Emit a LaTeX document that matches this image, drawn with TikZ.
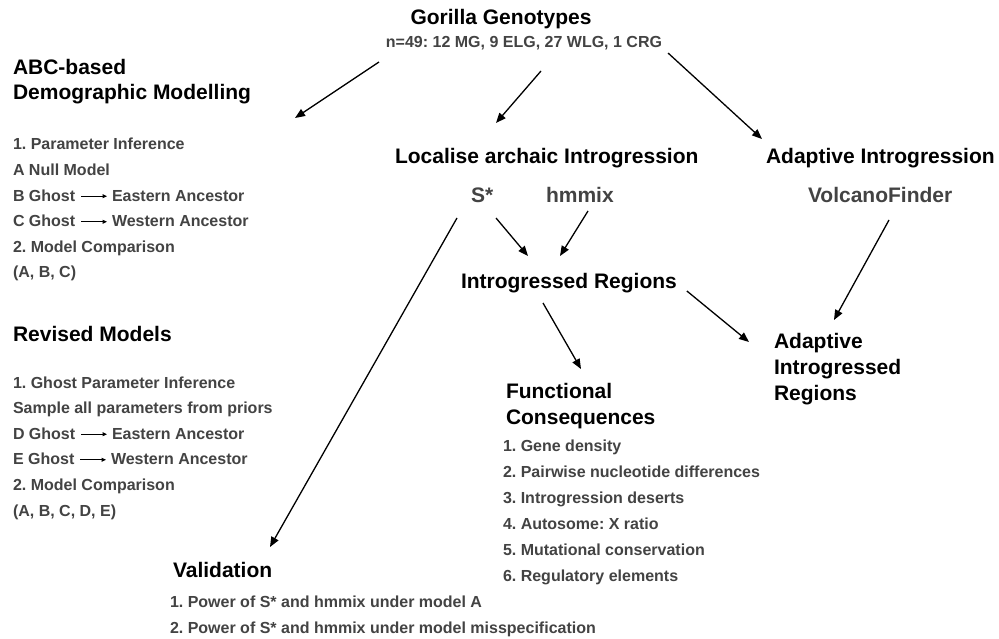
\documentclass[tikz,border=0pt]{standalone}
\usepackage{fontspec}
\setmainfont{Liberation Sans}
\usetikzlibrary{arrows.meta,calc}
\definecolor{txtgray}{HTML}{434343}
\begin{document}
\frenchspacing
\begin{tikzpicture}[x=1pt,y=-1pt,
  every node/.style={inner sep=0pt, outer sep=0pt},
  head/.style={font=\fontsize{21}{25}\selectfont\bfseries, text=black, anchor=base west},
  tool/.style={font=\fontsize{21}{25}\selectfont\bfseries, text=txtgray, anchor=base west},
  item/.style={font=\fontsize{16}{19}\selectfont\bfseries, text=txtgray, anchor=base west},
  arr/.style={draw=black, line width=1.3pt, -{Triangle[length=10pt,width=8pt]}},
  minarr/.style={draw=black, line width=1pt, -{Triangle[length=4.5pt,width=4pt]}}
]
\fill[white] (0,0) rectangle (999,639);
\useasboundingbox (0,0) rectangle (999,639);

% top
\node[head, anchor=base] (gor) at (501,25) {Gorilla Genotypes};
\node[item, anchor=base] (sub) at (524,48) {n=49: 12 MG, 9 ELG, 27 WLG, 1 CRG};

% ABC block
\node[head] (abc1) at (13,75) {ABC-based};
\node[head] (abc2) at (13,100) {Demographic Modelling};
\node[item] (p1) at (13,150) {1. Parameter Inference};
\node[item] (p2) at (13,175.6) {A Null Model};
\node[item] (p3a) at (13,201.2) {B Ghost};
\node[item] (p3b) at (112,201.2) {Eastern Ancestor};
\node[item] (p4a) at (13,226.8) {C Ghost};
\node[item] (p4b) at (112,226.8) {Western Ancestor};
\node[item] (p5) at (13,252.4) {2. Model Comparison};
\node[item] (p6) at (13,278) {(A, B, C)};
\draw[minarr] ($(p3a.base east)+(6,-5)$) -- ($(p3b.base west)+(-5,-5)$);
\draw[minarr] ($(p4a.base east)+(6,-5)$) -- ($(p4b.base west)+(-5,-5)$);

% Revised block
\node[head] (rev) at (13,341) {Revised Models};
\node[item] (r1) at (13,388) {1. Ghost Parameter Inference};
\node[item] (r2) at (13,413.6) {Sample all parameters from priors};
\node[item] (r3a) at (13,439.2) {D Ghost};
\node[item] (r3b) at (112,439.2) {Eastern Ancestor};
\node[item] (r4a) at (13,464.8) {E Ghost};
\node[item] (r4b) at (111,464.8) {Western Ancestor};
\node[item] (r5) at (13,490.4) {2. Model Comparison};
\node[item] (r6) at (13,516) {(A, B, C, D, E)};
\draw[minarr] ($(r3a.base east)+(6,-5)$) -- ($(r3b.base west)+(-5,-5)$);
\draw[minarr] ($(r4a.base east)+(6,-5)$) -- ($(r4b.base west)+(-5,-5)$);

% Validation
\node[head] (val) at (173,577) {Validation};
\node[item] (v1) at (170,607) {1. Power of S* and hmmix under model A};
\node[item] (v2) at (170,633) {2. Power of S* and hmmix under model misspecification};

% middle
\node[head] (loc) at (395,164) {Localise archaic Introgression};
\node[tool] (sstar) at (471,203) {S*};
\node[tool] (hmm) at (546,203) {hmmix};
\node[head] (intr) at (461,288) {Introgressed Regions};
\node[head] (fun1) at (506,398) {Functional};
\node[head] (fun2) at (506,424) {Consequences};
\node[item] (f1) at (503,451) {1. Gene density};
\node[item] (f2) at (503,477) {2. Pairwise nucleotide differences};
\node[item] (f3) at (503,503) {3. Introgression deserts};
\node[item] (f4) at (503,529) {4. Autosome: X ratio};
\node[item] (f5) at (503,555) {5. Mutational conservation};
\node[item] (f6) at (503,581) {6. Regulatory elements};

% right
\node[head] (ada) at (766,164) {Adaptive Introgression};
\node[tool] (vol) at (808,203) {VolcanoFinder};
\node[head] (air1) at (774,348) {Adaptive};
\node[head] (air2) at (774,374) {Introgressed};
\node[head] (air3) at (774,400) {Regions};

% connectors
\draw[arr] ($(sub.base west)+(-7,14)$) -- ($(abc2.base east)+(44,18)$);
\draw[arr] ($(sub.base)+(17,23)$) -- ($(loc.base west)+(101,-41)$);
\draw[arr] ($(sub.base east)+(6,5)$) -- ($(ada.base west)+(-4,-25)$);
\draw[arr] ($(sstar.base west)+(-14,15)$) -- ($(val.base west)+(97,-30)$);
\draw[arr] ($(sstar.base west)+(25,15)$) -- ($(intr.base west)+(67,-32)$);
\draw[arr] ($(hmm.base west)+(42,8)$) -- ($(intr.base west)+(99,-32)$);
\draw[arr] ($(vol.base west)+(81,17)$) -- ($(air1.base west)+(60,-28)$);
\draw[arr] ($(intr.base west)+(82,15)$) -- ($(fun1.base west)+(75,-29)$);
\draw[arr] ($(intr.base east)+(10,3)$) -- ($(air1.base west)+(-25,-6)$);
\end{tikzpicture}
\end{document}
